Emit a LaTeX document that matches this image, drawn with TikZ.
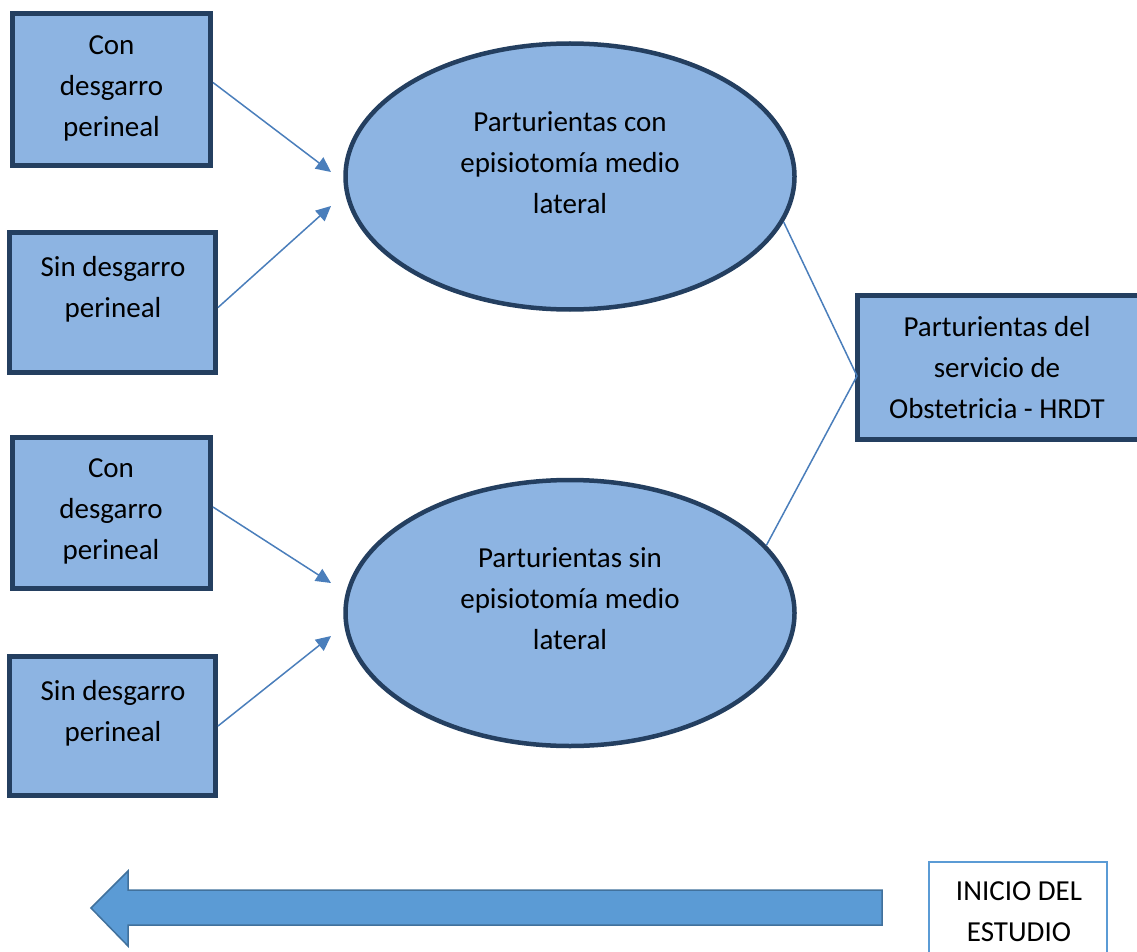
\documentclass[tikz,border=0pt]{standalone}
\usepackage{fontspec}
\setmainfont{Carlito}
\usetikzlibrary{arrows.meta,shapes.geometric}
\definecolor{boxfill}{RGB}{141,180,226}
\definecolor{boxline}{RGB}{36,63,96}
\definecolor{connc}{RGB}{74,126,187}
\definecolor{arrfill}{RGB}{91,155,213}
\definecolor{arrline}{RGB}{65,113,156}
\definecolor{inicioline}{RGB}{91,155,213}
\begin{document}
\begin{tikzpicture}[x=1pt,y=-1pt,
  boxnode/.style={draw=boxline, fill=boxfill, line width=5pt, rectangle, inner sep=0pt},
  ellnode/.style={draw=boxline, fill=boxfill, line width=4.5pt, ellipse, inner sep=0pt,
                  minimum width=449pt, minimum height=266pt},
  txt/.style={align=center, font=\fontsize{29}{41}\selectfont, inner sep=0pt, text=black},
  connline/.style={draw=connc, line width=1.5pt},
  arr/.style={connline, -{Triangle[length=15pt,width=14pt]}},
  bigarrow/.style={fill=arrfill, draw=arrline, line width=1.5pt, line join=miter},
  iniciobox/.style={draw=inicioline, fill=white, line width=2.5pt, rectangle, inner sep=0pt}
]
\useasboundingbox (0,0) rectangle (1137,952);

% left boxes
\node[boxnode, minimum width=198pt, minimum height=152pt] (b1) at (111.5,89.5) {};
\node[boxnode, minimum width=206pt, minimum height=140pt] (b2) at (112.5,302.5) {};
\node[boxnode, minimum width=198pt, minimum height=151pt] (b3) at (111.5,513) {};
\node[boxnode, minimum width=206pt, minimum height=139pt] (b4) at (112.5,726) {};

\node[txt] (t1) at (111.5,87) {\strut Con\\\strut desgarro\\\strut perineal};
\node[txt] (t2) at (113,289) {\strut Sin desgarro\\\strut perineal};
\node[txt] (t3) at (111,510) {\strut Con\\\strut desgarro\\\strut perineal};
\node[txt] (t4) at (113,712.5) {\strut Sin desgarro\\\strut perineal};

% ellipses
\node[ellnode] (e1) at (570,176.5) {};
\node[ellnode] (e2) at (570,613) {};
\node[txt] (te1) at (570,164) {\strut Parturientas con\\\strut episiotomía medio\\\strut lateral};
\node[txt] (te2) at (570,600) {\strut Parturientas sin\\\strut episiotomía medio\\\strut lateral};

% right box
\node[boxnode, minimum width=282.5pt, minimum height=144pt] (rb) at (998.75,367.5) {};
\node[txt] (tr) at (997,369) {\strut Parturientas del\\\strut servicio de\\\strut Obstetricia - HRDT};

% inicio box
\node[iniciobox, minimum width=178pt, minimum height=118pt] (ib) at (1018,921) {};
\node[txt] (ti) at (1019,913) {\strut INICIO DEL\\\strut ESTUDIO};

% connectors to ellipses
\coordinate (a1) at (331,172);
\coordinate (a2) at (331,206);
\coordinate (a3) at (331,583);
\coordinate (a4) at (331,636);
\draw[arr] ([yshift=7pt]b1.east) -- (a1);
\draw[arr] ([yshift=-5pt]b2.east) -- (a2);
\draw[arr] ([yshift=6pt]b3.east) -- (a3);
\draw[arr] (b4.east) -- (a4);

% lines to right box
\coordinate (j) at (857,376);
\draw[connline] (e1.-12.4) -- (j) -- (e2.19.6);

% big arrow
\draw[bigarrow] (882,890) -- (128,890) -- (128,871) -- (91,908) -- (128,946) -- (128,925) -- (882,925) -- cycle;
\end{tikzpicture}
\end{document}
